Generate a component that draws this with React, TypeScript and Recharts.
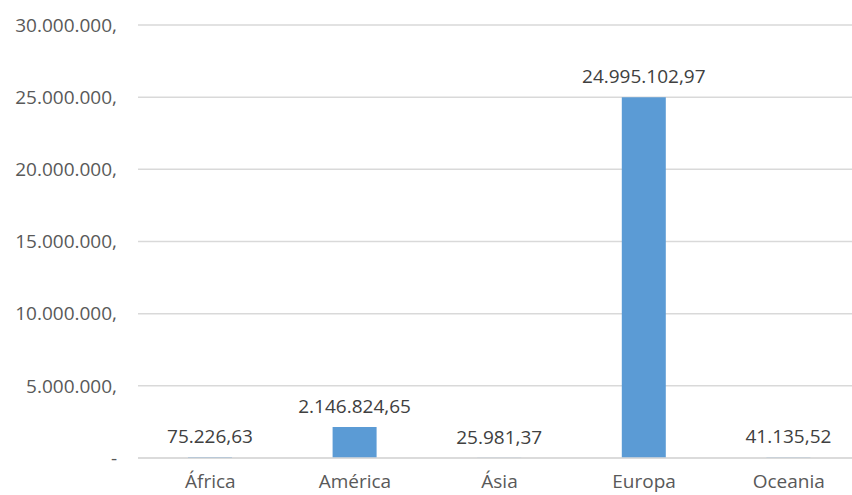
import React from 'react';
import { BarChart, Bar, XAxis, YAxis, CartesianGrid, LabelList } from 'recharts';

const continents = ['África', 'América', 'Ásia', 'Europa', 'Oceania'];
const totals = [75226.63, 2146824.65, 25981.37, 24995102.97, 41135.52];
const yTicks = [0, 5000000, 10000000, 15000000, 20000000, 25000000, 30000000];

const data = continents.map((name, i) => ({ name, total: totals[i] }));

const groupThousands = (s: string) => s.replace(/\B(?=(\d{3})+(?!\d))/g, '.');

const fmtValue = (v: number) => {
  const [int, dec] = v.toFixed(2).split('.');
  return `${groupThousands(int)},${dec}`;
};

const fmtTick = (v: number) => (v === 0 ? '-' : `${groupThousands(String(v))},`);

const font = '"Open Sans", sans-serif';

const App: React.FC = () => {
  return (
    <div style={{ position: 'absolute', left: 0, top: 0, width: 852, height: 495, overflow: 'hidden', background: '#fff' }}>
      <BarChart
        width={862}
        height={495}
        data={data}
        margin={{ top: 25, right: 1, left: 0, bottom: 0 }}
        style={{ fontFamily: font }}
      >
        <CartesianGrid vertical={false} stroke="#d9d9d9" strokeWidth={1.5} />
        <XAxis
          dataKey="name"
          height={37}
          tickLine={false}
          tickSize={0}
          tickMargin={17}
          axisLine={{ stroke: '#d9d9d9', strokeWidth: 1.5 }}
          tick={{ fill: '#595959', fontSize: 19, fontFamily: font }}
        />
        <YAxis
          width={138}
          domain={[0, 30000000]}
          ticks={yTicks}
          tickFormatter={fmtTick}
          axisLine={false}
          tickLine={false}
          tickSize={0}
          tickMargin={21}
          tick={{ fill: '#595959', fontSize: 19, fontFamily: font }}
        />
        <Bar dataKey="total" fill="#5b9bd5" barSize={44} isAnimationActive={false}>
          <LabelList
            dataKey="total"
            position="top"
            offset={14}
            formatter={(v: any) => fmtValue(Number(v))}
            style={{ fill: '#404040', fontSize: 19, fontFamily: font }}
          />
        </Bar>
      </BarChart>
    </div>
  );
};

export default App;
